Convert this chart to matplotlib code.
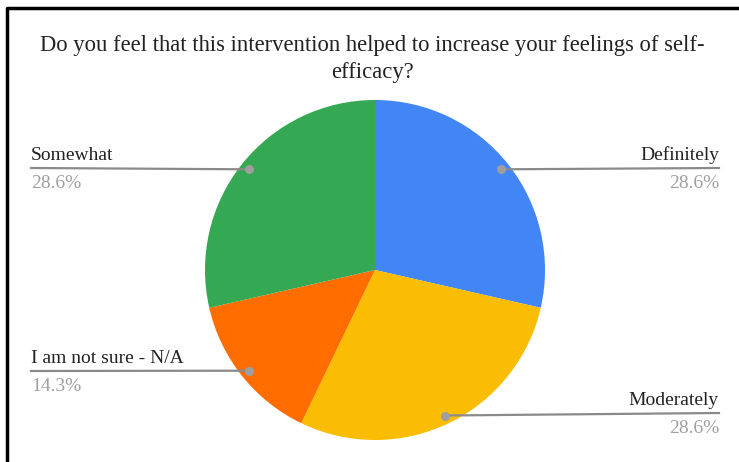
import numpy as np
import matplotlib.pyplot as plt

plt.rcParams['font.family'] = ['Liberation Serif', 'DejaVu Serif']

title = "Do you feel that this intervention helped to increase your feelings of self-\nefficacy?"
answers = ['Definitely', 'Moderately', 'I am not sure - N/A', 'Somewhat']
counts = [2, 2, 1, 2]
colors = ['#4285F4', '#FBBC04', '#FF6D01', '#34A853']

W, H = 739, 462
fig = plt.figure(figsize=(W / 100, H / 100), dpi=100)

# pie centre and radius in pixels
cx, cy, R = 375, 270, 170
ax = fig.add_axes([(cx - R) / W, (H - cy - R) / H, 2 * R / W, 2 * R / H])
wedges, _ = ax.pie(counts, colors=colors, startangle=90, counterclock=False,
                   radius=1, wedgeprops=dict(linewidth=0))
ax.set_xlim(-1, 1)
ax.set_ylim(-1, 1)
ax.set_aspect('equal')
ax.axis('off')

# overlay in pixel coordinates for the frame, title and callouts
over = fig.add_axes([0, 0, 1, 1], zorder=5)
over.set_xlim(0, W)
over.set_ylim(H, 0)
over.patch.set_alpha(0)
over.axis('off')

# frame: only left and top edges are visible
over.plot([7, 7, W], [H, 8, 8], color='black', lw=2.5, solid_capstyle='butt')

over.text(372, 35, title, ha='center', va='top', fontsize=16.3,
          color='#222222', linespacing=1.4)

total = sum(counts)
line_end_y = [168, 413, 371, 168]
for w, name, n, ly in zip(wedges, answers, counts, line_end_y):
    mid = np.deg2rad((w.theta1 + w.theta2) / 2)
    px = cx + 0.95 * R * np.cos(mid)
    py = cy - 0.95 * R * np.sin(mid)
    right = np.cos(mid) > 0
    xe = 719 if right else 31
    over.plot([px, xe], [py, ly], color='#8a8a8a', lw=1.6, zorder=3)
    over.plot(px, py, 'o', color='#9e9e9e', ms=5.5, zorder=4)
    ha = 'right' if right else 'left'
    over.text(xe, ly - 4, name, ha=ha, va='bottom', fontsize=14, color='#222222')
    over.text(xe, ly + 7, f'{100 * n / total:.1f}%', ha=ha, va='top',
              fontsize=14, color='#a0a0a0')

fig.savefig('out.png', dpi=100)
